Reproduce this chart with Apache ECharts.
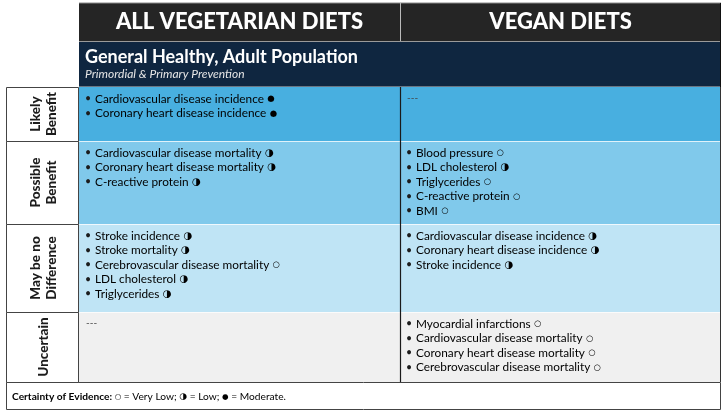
<!DOCTYPE html>
<html><head><meta charset="utf-8">
<script src="https://cdn.jsdelivr.net/npm/echarts@6/dist/echarts.min.js"></script>
<style>html,body{margin:0;padding:0;background:#fff}#c{width:722px;height:411px}</style>
</head><body><div id="c"></div>
<script>
// ---- data ----
const columns = ['ALL VEGETARIAN DIETS', 'VEGAN DIETS'];
const population = 'General Healthy, Adult Population';
const preventionLevel = 'Primordial & Primary Prevention';
const evidenceRows = ['Likely\nBenefit', 'Possible\nBenefit', 'May be no\nDifference', 'Uncertain'];
// certainty: 1 = very low, 2 = low, 3 = moderate
const vegetarianOutcomes = [
  [['Cardiovascular disease incidence', 3], ['Coronary heart disease incidence', 3]],
  [['Cardiovascular disease mortality', 2], ['Coronary heart disease mortality', 2], ['C-reactive protein', 2]],
  [['Stroke incidence', 2], ['Stroke mortality', 2], ['Cerebrovascular disease mortality', 1], ['LDL cholesterol', 2], ['Triglycerides', 2]],
  []
];
const veganOutcomes = [
  [],
  [['Blood pressure', 1], ['LDL cholesterol', 2], ['Triglycerides', 1], ['C-reactive protein', 1], ['BMI', 1]],
  [['Cardiovascular disease incidence', 2], ['Coronary heart disease incidence', 2], ['Stroke incidence', 2]],
  [['Myocardial infarctions', 1], ['Cardiovascular disease mortality', 1], ['Coronary heart disease mortality', 1], ['Cerebrovascular disease mortality', 1]]
];
const certaintyLevels = ['Very Low', 'Low', 'Moderate'];
const certaintySymbols = ['○', '◑', '●'];
const legendTitle = 'Certainty of Evidence:';
const emptyMark = '---';

// ---- layout / style ----
const ROW_SPAN = [54, 83, 88, 70];
const ROW_FILL = ['#48afe0', '#80c9eb', '#bfe4f5', '#f0f0f0'];
const ROW_START = [0];
ROW_SPAN.forEach((h, i) => ROW_START.push(ROW_START[i] + h));
const TOTAL = ROW_START[ROW_START.length - 1];
const FONT = "Lato, 'Noto Sans', sans-serif";
const SYM_FONT = "'DejaVu Sans', sans-serif";
const LINE_H = 14.5;

const outcomesByCol = [vegetarianOutcomes, veganOutcomes];

const rich = {
  t: { fontFamily: FONT, fontSize: 11.8, color: '#1c1c1c' },
  s1: { fontFamily: SYM_FONT, fontSize: 8.5, color: '#1c1c1c' },
  s2: { fontFamily: SYM_FONT, fontSize: 10.5, color: '#1c1c1c' },
  s3: { fontFamily: SYM_FONT, fontSize: 8.5, color: '#1c1c1c' },
  fs1: { fontFamily: SYM_FONT, fontSize: 7.5, color: '#1c1c1c' },
  fs2: { fontFamily: SYM_FONT, fontSize: 9, color: '#1c1c1c' },
  fs3: { fontFamily: SYM_FONT, fontSize: 7.5, color: '#1c1c1c' },
  b: { fontFamily: FONT, fontSize: 10.2, fontWeight: 'bold', color: '#1c1c1c' },
  f: { fontFamily: FONT, fontSize: 10.2, color: '#1c1c1c' }
};

function contentItem(params, api) {
  const c = api.value(0), r = api.value(1);
  const p0 = api.coord([c, ROW_START[r]]);
  const p1 = api.coord([c, ROW_START[r + 1]]);
  const bw = api.size([1, 0])[0];
  const x0 = p0[0] - bw / 2, y0 = p0[1], h = p1[1] - p0[1];
  const children = [{
    type: 'rect', shape: { x: x0, y: y0, width: bw, height: h },
    style: { fill: ROW_FILL[r] }
  }];
  if (r > 0) children.push({
    type: 'line', shape: { x1: x0, y1: y0 + 0.5, x2: x0 + bw, y2: y0 + 0.5 },
    style: { stroke: 'rgba(255,255,255,0.75)', lineWidth: 1.2 }
  });
  const items = outcomesByCol[c][r];
  if (!items.length) {
    children.push({ type: 'text', x: x0 + 7, y: y0 + 11,
      style: { text: emptyMark, fontFamily: FONT, fontSize: 10, fill: '#444', verticalAlign: 'middle' } });
  }
  items.forEach((it, i) => {
    const y = y0 + 12 + i * LINE_H;
    children.push({ type: 'text', x: x0 + 6, y: y,
      style: { text: '•', fontFamily: FONT, fontSize: 10.5, fill: '#1c1c1c', verticalAlign: 'middle' } });
    children.push({ type: 'text', x: x0 + 16, y: y,
      style: { text: '{t|' + it[0] + '} {s' + it[1] + '|' + certaintySymbols[it[1] - 1] + '}', rich: rich, verticalAlign: 'middle' } });
  });
  if (c === 1) {
    children.push({ type: 'line', shape: { x1: x0 + 0.5, y1: y0, x2: x0 + 0.5, y2: y0 + h },
      style: { stroke: '#1a1a1a', lineWidth: 1.2 } });
    children.push({ type: 'line', shape: { x1: x0 + bw - 0.5, y1: y0, x2: x0 + bw - 0.5, y2: y0 + h },
      style: { stroke: '#333', lineWidth: 1 } });
  }
  return { type: 'group', children: children };
}

function labelItem(params, api) {
  const r = api.value(1);
  const p0 = api.coord([0, ROW_START[r]]);
  const p1 = api.coord([0, ROW_START[r + 1]]);
  const bw = api.size([1, 0])[0];
  const x0 = p0[0] - bw / 2, y0 = p0[1], h = p1[1] - p0[1];
  return { type: 'group', children: [
    { type: 'rect', shape: { x: x0 + 0.5, y: y0 + 0.5, width: bw - 1, height: h },
      style: { fill: '#fff', stroke: '#444', lineWidth: 1 } },
    { type: 'text', x: x0 + bw / 2 + 1, y: y0 + h / 2, rotation: Math.PI / 2,
      style: { text: evidenceRows[r], fontFamily: FONT, fontSize: 13.5, fontWeight: 900, fill: '#1c1c1c',
        align: 'center', verticalAlign: 'middle', lineHeight: 15.5 } }
  ]};
}

const contentData = [];
columns.forEach((_, c) => evidenceRows.forEach((_, r) => contentData.push([c, r])));
const labelData = evidenceRows.map((_, r) => [0, r]);

const legendText = '{b|' + legendTitle + '}{f| }' + certaintyLevels.map((lv, i) =>
  '{fs' + (i + 1) + '|' + certaintySymbols[i] + '}{f| = ' + lv + (i < 2 ? ';' : '.') + '}').join('{f| }');

const chart = echarts.init(document.getElementById('c'), null, { renderer: 'canvas' });
chart.setOption({
  animation: false,
  grid: [
    { left: 79, top: 87, width: 642, height: 295 },
    { left: 6, top: 87, width: 73, height: 295 }
  ],
  xAxis: [
    { gridIndex: 0, type: 'category', data: columns, show: false },
    { gridIndex: 1, type: 'category', data: [''], show: false }
  ],
  yAxis: [
    { gridIndex: 0, type: 'value', inverse: true, min: 0, max: TOTAL, show: false },
    { gridIndex: 1, type: 'value', inverse: true, min: 0, max: TOTAL, show: false }
  ],
  graphic: [
    { type: 'rect', shape: { x: 79, y: 3, width: 642, height: 38 }, style: { fill: '#252525' } },
    { type: 'line', shape: { x1: 79, y1: 3, x2: 721, y2: 3 }, style: { stroke: '#8a8a8a', lineWidth: 1 } },
    { type: 'line', shape: { x1: 400.5, y1: 3, x2: 400.5, y2: 41 }, style: { stroke: '#bbb', lineWidth: 1 } },
    { type: 'rect', shape: { x: 79, y: 41, width: 642, height: 46 }, style: { fill: '#0f2640' } },
    { type: 'line', shape: { x1: 79, y1: 41.5, x2: 721, y2: 41.5 }, style: { stroke: '#9a9a9a', lineWidth: 1 } },
    { type: 'line', shape: { x1: 79, y1: 87, x2: 721, y2: 87 }, style: { stroke: '#c8c8c8', lineWidth: 1 } },
    { type: 'line', shape: { x1: 720.5, y1: 3, x2: 720.5, y2: 87 }, style: { stroke: '#111', lineWidth: 1 } },
    { type: 'text', x: 239.5, y: 22, style: { text: columns[0], fontFamily: FONT, fontSize: 22, fontWeight: 900,
        fill: '#fff', align: 'center', verticalAlign: 'middle' } },
    { type: 'text', x: 560.5, y: 22, style: { text: columns[1], fontFamily: FONT, fontSize: 22, fontWeight: 900,
        fill: '#fff', align: 'center', verticalAlign: 'middle' } },
    { type: 'text', x: 85, y: 57, style: { text: population, fontFamily: FONT, fontSize: 18, fontWeight: 'bold',
        fill: '#fff', verticalAlign: 'middle' } },
    { type: 'text', x: 85, y: 74, style: { text: preventionLevel, fontFamily: FONT, fontSize: 12, fontStyle: 'italic',
        fill: '#e6e6e6', verticalAlign: 'middle' } },
    { type: 'rect', shape: { x: 6.5, y: 382.5, width: 714, height: 27 }, style: { fill: '#fff', stroke: '#444', lineWidth: 1 } },
    { type: 'text', x: 12, y: 397, style: { text: legendText, rich: rich, verticalAlign: 'middle' } }
  ],
  series: [
    { type: 'custom', xAxisIndex: 0, yAxisIndex: 0, data: contentData, renderItem: contentItem, silent: true },
    { type: 'custom', xAxisIndex: 1, yAxisIndex: 1, data: labelData, renderItem: labelItem, silent: true }
  ]
});
</script>
</body></html>
